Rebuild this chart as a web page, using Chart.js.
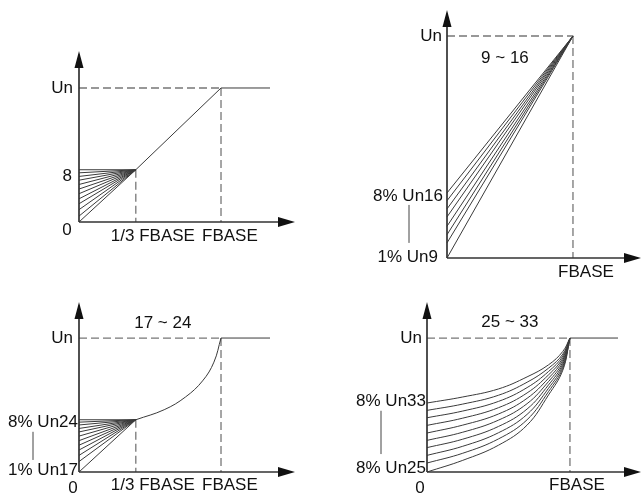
<!DOCTYPE html>
<html>
<head>
<meta charset="utf-8">
<script src="https://cdn.jsdelivr.net/npm/chart.js@4.4.1/dist/chart.umd.min.js"></script>
<style>
  body { margin: 0; background: #fff; }
  #wrap { position: relative; width: 641px; height: 495px; }
  canvas { position: absolute; }
</style>
</head>
<body>
<div id="wrap">
  <canvas id="p1" width="320" height="248" style="left:0;top:0"></canvas>
  <canvas id="p2" width="321" height="290" style="left:320px;top:0"></canvas>
  <canvas id="p3" width="320" height="247" style="left:0;top:248px"></canvas>
  <canvas id="p4" width="321" height="205" style="left:320px;top:290px"></canvas>
</div>
<script>
// values (schematic units: FBASE = 1, Un = 1)
const boostX = 0.4;          // 1/3 FBASE position
const boostLevel = 0.39;     // torque boost point
const fanStart1 = [0.39, 0.367, 0.34, 0.312, 0.28, 0.246, 0.211, 0.173, 0.136, 0.092, 0.044, 0];
const fanStart2 = [0.293, 0.258, 0.221, 0.185, 0.143, 0.105, 0.068, 0];
const fanStart3 = [0.39, 0.372, 0.351, 0.325, 0.299, 0.268, 0.234, 0.2, 0.164, 0.124, 0.078, 0];
const curveX3 = [0.4, 0.6, 0.75, 0.87, 0.95, 1];
const curveY3 = [0.39, 0.465, 0.56, 0.68, 0.82, 1];
const curveX4 = [0, 0.25, 0.5, 0.7, 0.85, 0.95, 1];
const curves4 = [
    [0.515, 0.56, 0.62, 0.71, 0.80, 0.90, 1],
    [0.46, 0.507, 0.573, 0.67, 0.775, 0.88, 1],
    [0.405, 0.455, 0.527, 0.63, 0.75, 0.865, 1],
    [0.348, 0.402, 0.48, 0.59, 0.725, 0.85, 1],
    [0.291, 0.35, 0.433, 0.55, 0.70, 0.835, 1],
    [0.236, 0.297, 0.387, 0.51, 0.675, 0.82, 1],
    [0.182, 0.245, 0.34, 0.47, 0.65, 0.805, 1],
    [0.124, 0.192, 0.293, 0.43, 0.625, 0.79, 1],
    [0.067, 0.14, 0.247, 0.39, 0.60, 0.775, 1],
    [0, 0.087, 0.2, 0.35, 0.575, 0.76, 1]
];
const unLineEnd = [1.345, 1.345, 1.336];   // solid Un line end, panels 1, 3, 4
const titles = ['', '9 ~ 16', '17 ~ 24', '25 ~ 33'];

const FONT = '17px "Liberation Sans", Arial, sans-serif';

function solid(pts) {
    return { data: pts, showLine: true, pointRadius: 0, borderColor: '#3a3a3a', borderWidth: 1, clip: false };
}
function dashed(pts) {
    return { data: pts, showLine: true, pointRadius: 0, borderColor: '#777', borderWidth: 1.3, borderDash: [8, 4], clip: false };
}
function smooth(pts) {
    let d = solid(pts);
    d.tension = 0.4;
    return d;
}

const decor = {
    id: 'decor',
    afterDatasetsDraw(chart, args, opts) {
        const ctx = chart.ctx, a = chart.chartArea, x = chart.scales.x, y = chart.scales.y;
        ctx.save();
        // axes with arrows
        ctx.strokeStyle = '#333';
        ctx.lineWidth = 1.7;
        ctx.beginPath();
        ctx.moveTo(a.left, a.bottom); ctx.lineTo(a.left, a.top + 14);
        ctx.moveTo(a.left, a.bottom); ctx.lineTo(a.right - 14, a.bottom);
        ctx.stroke();
        ctx.fillStyle = '#111';
        ctx.beginPath();
        ctx.moveTo(a.left, a.top); ctx.lineTo(a.left - 4.5, a.top + 17); ctx.lineTo(a.left + 4.5, a.top + 17);
        ctx.closePath(); ctx.fill();
        ctx.beginPath();
        ctx.moveTo(a.right, a.bottom); ctx.lineTo(a.right - 17, a.bottom - 5); ctx.lineTo(a.right - 17, a.bottom + 5);
        ctx.closePath(); ctx.fill();
        // brackets
        ctx.strokeStyle = '#444';
        ctx.lineWidth = 1;
        (opts.brackets || []).forEach(b => {
            ctx.beginPath();
            ctx.moveTo(a.left + b.dx, y.getPixelForValue(b.y1));
            ctx.lineTo(a.left + b.dx, y.getPixelForValue(b.y2));
            ctx.stroke();
        });
        // text
        ctx.font = FONT;
        ctx.fillStyle = '#111';
        ctx.textBaseline = 'middle';
        (opts.labels || []).forEach(l => {
            ctx.textAlign = l.align || 'center';
            ctx.fillText(l.text, x.getPixelForValue(l.x) + (l.dx || 0), y.getPixelForValue(l.y) + (l.dy || 0));
        });
        ctx.restore();
    }
};

function makePanel(id, datasets, pad, xMax, yMax, labels, brackets) {
    return new Chart(document.getElementById(id), {
        type: 'scatter',
        data: { datasets: datasets },
        options: {
            responsive: false,
            animation: false,
            events: [],
            layout: { padding: pad },
            plugins: {
                legend: { display: false },
                tooltip: { enabled: false },
                decor: { labels: labels, brackets: brackets }
            },
            scales: {
                x: { type: 'linear', min: 0, max: xMax, display: false },
                y: { type: 'linear', min: 0, max: yMax, display: false }
            }
        },
        plugins: [decor]
    });
}

// panel 1: linear V/F
let ds1 = fanStart1.map(s => solid([{ x: 0, y: s }, { x: boostX, y: boostLevel }]));
ds1.push(solid([{ x: boostX, y: boostLevel }, { x: 1, y: 1 }]));
ds1.push(dashed([{ x: 0, y: 1 }, { x: 1, y: 1 }]));
ds1.push(solid([{ x: 1, y: 1 }, { x: unLineEnd[0], y: 1 }]));
ds1.push(dashed([{ x: 1, y: 1 }, { x: 1, y: 0 }]));
ds1.push(dashed([{ x: boostX, y: boostLevel }, { x: boostX, y: 0 }]));
makePanel('p1', ds1, { left: 79, top: 51, right: 25, bottom: 26 }, 1.521, 1.276, [
    { text: 'Un', x: 0, y: 1, dx: -6, align: 'right' },
    { text: '8', x: 0, y: boostLevel, dx: -7, dy: 7, align: 'right' },
    { text: '0', x: 0, y: 0, dx: -12, dy: 8 },
    { text: '1/3 FBASE', x: boostX, y: 0, dx: -25, dy: 14, align: 'left' },
    { text: 'FBASE', x: 1, y: 0, dx: -19, dy: 14, align: 'left' }
], []);

// panel 2: 9 ~ 16
let ds2 = fanStart2.map(s => solid([{ x: 0, y: s }, { x: 1, y: 1 }]));
ds2.push(dashed([{ x: 0, y: 1 }, { x: 1, y: 1 }]));
ds2.push(dashed([{ x: 1, y: 1 }, { x: 1, y: 0 }]));
makePanel('p2', ds2, { left: 127, top: 10, right: 0, bottom: 32 }, 1.54, 1.117, [
    { text: titles[1], x: 0.46, y: 0.9 },
    { text: 'Un', x: 0, y: 1, dx: -5, align: 'right' },
    { text: '8% Un16', x: 0, y: fanStart2[0], dx: -4, dy: 3, align: 'right' },
    { text: '1% Un9', x: 0, y: 0, dx: -9, dy: -1, align: 'right' },
    { text: 'FBASE', x: 1, y: 0, dx: 13, dy: 14 }
], [{ dx: -38, y1: 0.239, y2: 0.068 }]);

// panel 3: 17 ~ 24
let ds3 = fanStart3.map(s => solid([{ x: 0, y: s }, { x: boostX, y: boostLevel }]));
ds3.push(smooth(curveX3.map((v, i) => ({ x: v, y: curveY3[i] }))));
ds3.push(dashed([{ x: 0, y: 1 }, { x: 1, y: 1 }]));
ds3.push(solid([{ x: 1, y: 1 }, { x: unLineEnd[1], y: 1 }]));
ds3.push(dashed([{ x: 1, y: 1 }, { x: 1, y: 0 }]));
ds3.push(dashed([{ x: boostX, y: boostLevel }, { x: boostX, y: 0 }]));
makePanel('p3', ds3, { left: 79, top: 54, right: 25, bottom: 23 }, 1.521, 1.269, [
    { text: titles[2], x: 0.59, y: 1.11 },
    { text: 'Un', x: 0, y: 1, dx: -6, align: 'right' },
    { text: '8% Un24', x: 0, y: boostLevel, dx: -1, dy: 3, align: 'right' },
    { text: '1% Un17', x: 0, y: 0, dx: -1, dy: -2, align: 'right' },
    { text: '0', x: 0, y: 0, dx: -6, dy: 16 },
    { text: '1/3 FBASE', x: boostX, y: 0, dx: -25, dy: 13, align: 'left' },
    { text: 'FBASE', x: 1, y: 0, dx: -19, dy: 13, align: 'left' }
], [{ dx: -46, y1: 0.3, y2: 0.09 }]);

// panel 4: 25 ~ 33
let ds4 = curves4.map(c => smooth(curveX4.map((v, i) => ({ x: v, y: c[i] }))));
ds4.push(dashed([{ x: 0, y: 1 }, { x: 1, y: 1 }]));
ds4.push(solid([{ x: 1, y: 1 }, { x: unLineEnd[2], y: 1 }]));
ds4.push(dashed([{ x: 1, y: 1 }, { x: 1, y: 0 }]));
makePanel('p4', ds4, { left: 107, top: 12, right: 0, bottom: 23 }, 1.497, 1.269, [
    { text: titles[3], x: 0.58, y: 1.114 },
    { text: 'Un', x: 0, y: 1, dx: -5, align: 'right' },
    { text: '8% Un33', x: 0, y: curves4[0][0], dx: -1, dy: -2, align: 'right' },
    { text: '8% Un25', x: 0, y: 0, dx: -1, dy: -4, align: 'right' },
    { text: '0', x: 0, y: 0, dx: -7, dy: 16 },
    { text: 'FBASE', x: 1, y: 0, dx: 7, dy: 13 }
], [{ dx: -46, y1: 0.457, y2: 0.134 }]);
</script>
</body>
</html>
